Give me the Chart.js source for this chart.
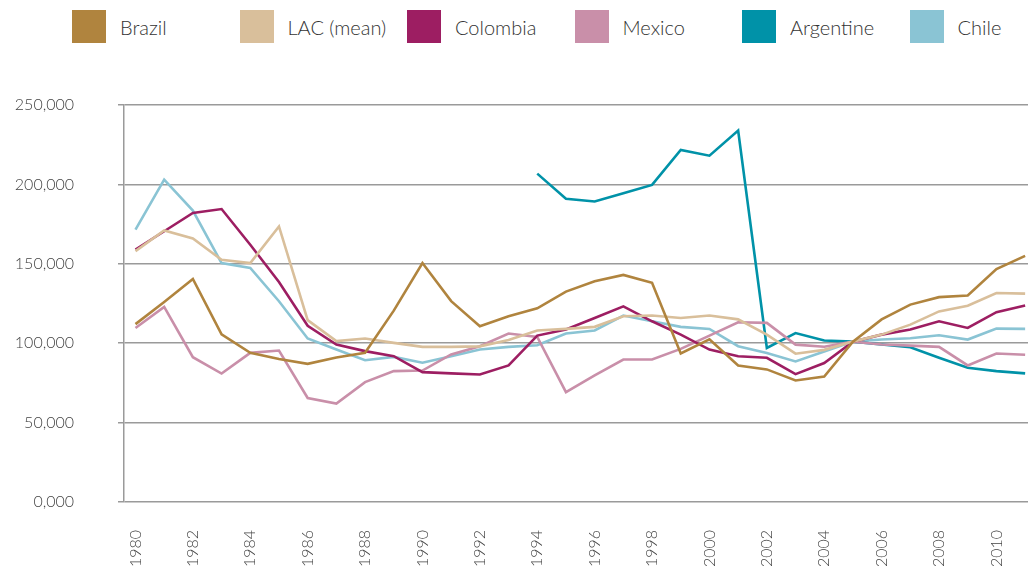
<!DOCTYPE html>
<html>
<head>
<meta charset="utf-8">
<script src="https://cdn.jsdelivr.net/npm/chart.js@4"></script>
<style>
html, body { margin: 0; padding: 0; background: #fff; }
#wrap { position: relative; width: 1030px; height: 568px; }
#legend { position: absolute; left: 0; top: 0; width: 1030px; height: 60px; font-family: Lato, sans-serif; font-weight: 300; font-size: 20px; color: #333; }
.item { position: absolute; top: 10px; height: 33px; display: flex; align-items: center; white-space: nowrap; }
.sw { width: 34px; height: 33px; margin-right: 14px; }
canvas { position: absolute; left: 0; top: 0; }
</style>
</head>
<body>
<div id="wrap">
  <div id="legend"></div>
  <canvas id="lineChart" width="1030" height="568"></canvas>
</div>
<script>
var years = [];
for (var y = 1980; y <= 2011; y++) years.push(y);

var brazil = [112000, 126000, 140500, 105500, 94000, 90000, 87000, 91000, 94000, 120500, 150500, 126500, 110700, 117000, 122000, 132500, 139000, 143000, 138000, 93500, 102500, 86000, 83500, 76500, 79000, 101000, 115000, 124300, 129000, 130000, 146700, 155000];
var lac = [158000, 171000, 166000, 152500, 150500, 173500, 114500, 101300, 103000, 100200, 97700, 97700, 98000, 102000, 108000, 109000, 110300, 117000, 117400, 115900, 117400, 115000, 105400, 93400, 95800, 101000, 105400, 111700, 120000, 123600, 131600, 131200];
var colombia = [159000, 170500, 182000, 184500, 162000, 138500, 111000, 99200, 95000, 91800, 81800, 81000, 80300, 86000, 104800, 108600, 115900, 123200, 113800, 105400, 96000, 91800, 90800, 80500, 87500, 101000, 105400, 108600, 113800, 109600, 119500, 123800];
var mexico = [109600, 122900, 91200, 80900, 93900, 95400, 65500, 62000, 75500, 82400, 82800, 92900, 98100, 106100, 104000, 69200, 79700, 89700, 89700, 96400, 104800, 113200, 112800, 99100, 97800, 101000, 99200, 98500, 97700, 86000, 93500, 92700];
var argentine = [null, null, null, null, null, null, null, null, null, null, null, null, null, null, 206800, 190900, 189200, 194400, 199700, 221700, 218100, 233900, 97000, 106400, 101700, 101000, 99200, 97500, 90800, 84500, 82400, 81000];
var chile = [171500, 203000, 183500, 150500, 147400, 126400, 103000, 96000, 89300, 91400, 87700, 91800, 96000, 97700, 98700, 106100, 108000, 117400, 113800, 110300, 109000, 98100, 93900, 88500, 94800, 101000, 102300, 103100, 105000, 102300, 109200, 109000];

var seriesNames = ['Brazil', 'LAC (mean)', 'Colombia', 'Mexico', 'Argentine', 'Chile'];
var seriesValues = [brazil, lac, colombia, mexico, argentine, chile];
var seriesColors = ['#B0843E', '#D9BF9B', '#9D1E62', '#C98FA9', '#0092A8', '#8AC4D4'];

var xTickYears = [1980, 1982, 1984, 1986, 1988, 1990, 1992, 1994, 1996, 1998, 2000, 2002, 2004, 2006, 2008, 2010];
var yTickValues = [0, 50000, 100000, 150000, 200000, 250000];
var yTickLabels = ['0,000', '50,000', '100,000', '150,000', '200,000', '250,000'];

// html legend, fixed spacing like the original
var legend = document.getElementById('legend');
seriesNames.forEach(function (name, i) {
    var item = document.createElement('div');
    item.className = 'item';
    item.style.left = (72 + i * 167.5) + 'px';
    item.innerHTML = '<div class="sw" style="background:' + seriesColors[i] + '"></div><span>' + name + '</span>';
    legend.appendChild(item);
});

var datasets = seriesNames.map(function (name, i) {
    return {
        label: name,
        data: years.map(function (yr, j) { return { x: yr, y: seriesValues[i][j] }; }),
        borderColor: seriesColors[i],
        backgroundColor: seriesColors[i],
        borderWidth: 2.6,
        pointRadius: 0,
        tension: 0,
        spanGaps: false
    };
});

var tickFont = { family: 'Lato, sans-serif', size: 16, weight: 300 };

var ctx = document.getElementById('lineChart').getContext('2d');
var myChart = new Chart(ctx, {
    type: 'line',
    data: { datasets: datasets },
    options: {
        responsive: false,
        animation: false,
        layout: { padding: { top: 105, right: 2, left: 0, bottom: 0 } },
        plugins: { legend: { display: false }, tooltip: { enabled: false } },
        scales: {
            x: {
                type: 'linear',
                min: 1979.6,
                max: 2011.1,
                afterBuildTicks: function (s) { s.ticks = xTickYears.map(function (v) { return { value: v }; }); },
                afterFit: function (s) { s.height = 66; s.paddingLeft = 0; s.paddingRight = 0; },
                grid: { display: false, drawTicks: false },
                border: { display: false },
                ticks: {
                    minRotation: 90,
                    maxRotation: 90,
                    padding: 28,
                    color: '#444',
                    font: tickFont,
                    callback: function (v) { return String(v); }
                }
            },
            y: {
                min: 0,
                max: 250000,
                afterBuildTicks: function (s) { s.ticks = yTickValues.map(function (v) { return { value: v }; }); },
                afterFit: function (s) { s.width = 124; },
                grid: { color: '#9a9a9a', lineWidth: 1.5, tickLength: 6 },
                border: { display: true, color: '#9a9a9a', width: 1.5 },
                ticks: {
                    padding: 44,
                    color: '#444',
                    font: tickFont,
                    callback: function (v, i) { return yTickLabels[i]; }
                }
            }
        }
    }
});
</script>
</body>
</html>
